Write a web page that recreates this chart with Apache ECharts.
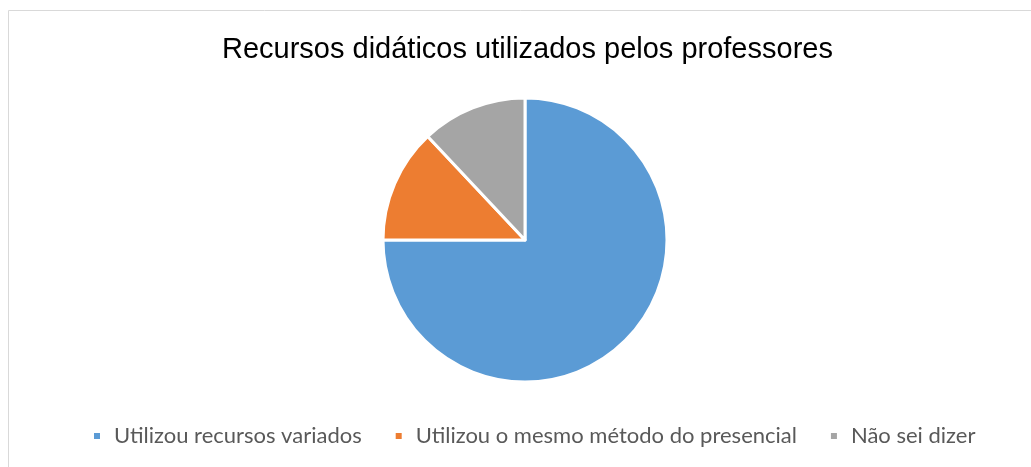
<!DOCTYPE html>
<html>
<head>
<meta charset="utf-8">
<script src="https://cdn.jsdelivr.net/npm/echarts@6/dist/echarts.min.js"></script>
<style>
  html, body { margin: 0; padding: 0; background: #fff; }
  #chart { width: 1031px; height: 467px; }
</style>
</head>
<body>
<div id="chart"></div>
<script>
var categories = ['Utilizou recursos variados', 'Utilizou o mesmo método do presencial', 'Não sei dizer']
var values = [75, 13, 12]
var colors = ['#5B9BD5', '#ED7D31', '#A5A5A5']

var chart = echarts.init(document.getElementById('chart'))
var option = {
  animation: false,
  color: colors,
  title: {
    text: 'Recursos didáticos utilizados pelos professores',
    left: 217,
    top: 30,
    textStyle: {
      fontFamily: 'Liberation Sans',
      fontSize: 29,
      fontWeight: 'normal',
      color: '#000'
    }
  },
  legend: {
    data: categories,
    bottom: 15,
    left: 87,
    icon: 'rect',
    itemWidth: 8,
    itemHeight: 8,
    itemGap: 32,
    textStyle: {
      fontFamily: 'Lato',
      fontSize: 22,
      color: '#595959',
      padding: [0, 0, 0, 8]
    }
  },
  graphic: [
    {
      type: 'rect',
      shape: { x: 8.5, y: 10.5, width: 1040, height: 470 },
      style: { fill: 'none', stroke: '#d9d9d9', lineWidth: 1 }
    }
  ],
  series: [
    {
      type: 'pie',
      center: [525, 240],
      radius: 142,
      startAngle: 90,
      clockwise: true,
      label: { show: false },
      labelLine: { show: false },
      itemStyle: { borderColor: '#fff', borderWidth: 3 },
      data: categories.map(function (name, i) {
        return { name: name, value: values[i] }
      })
    }
  ]
}
chart.setOption(option)
</script>
</body>
</html>
